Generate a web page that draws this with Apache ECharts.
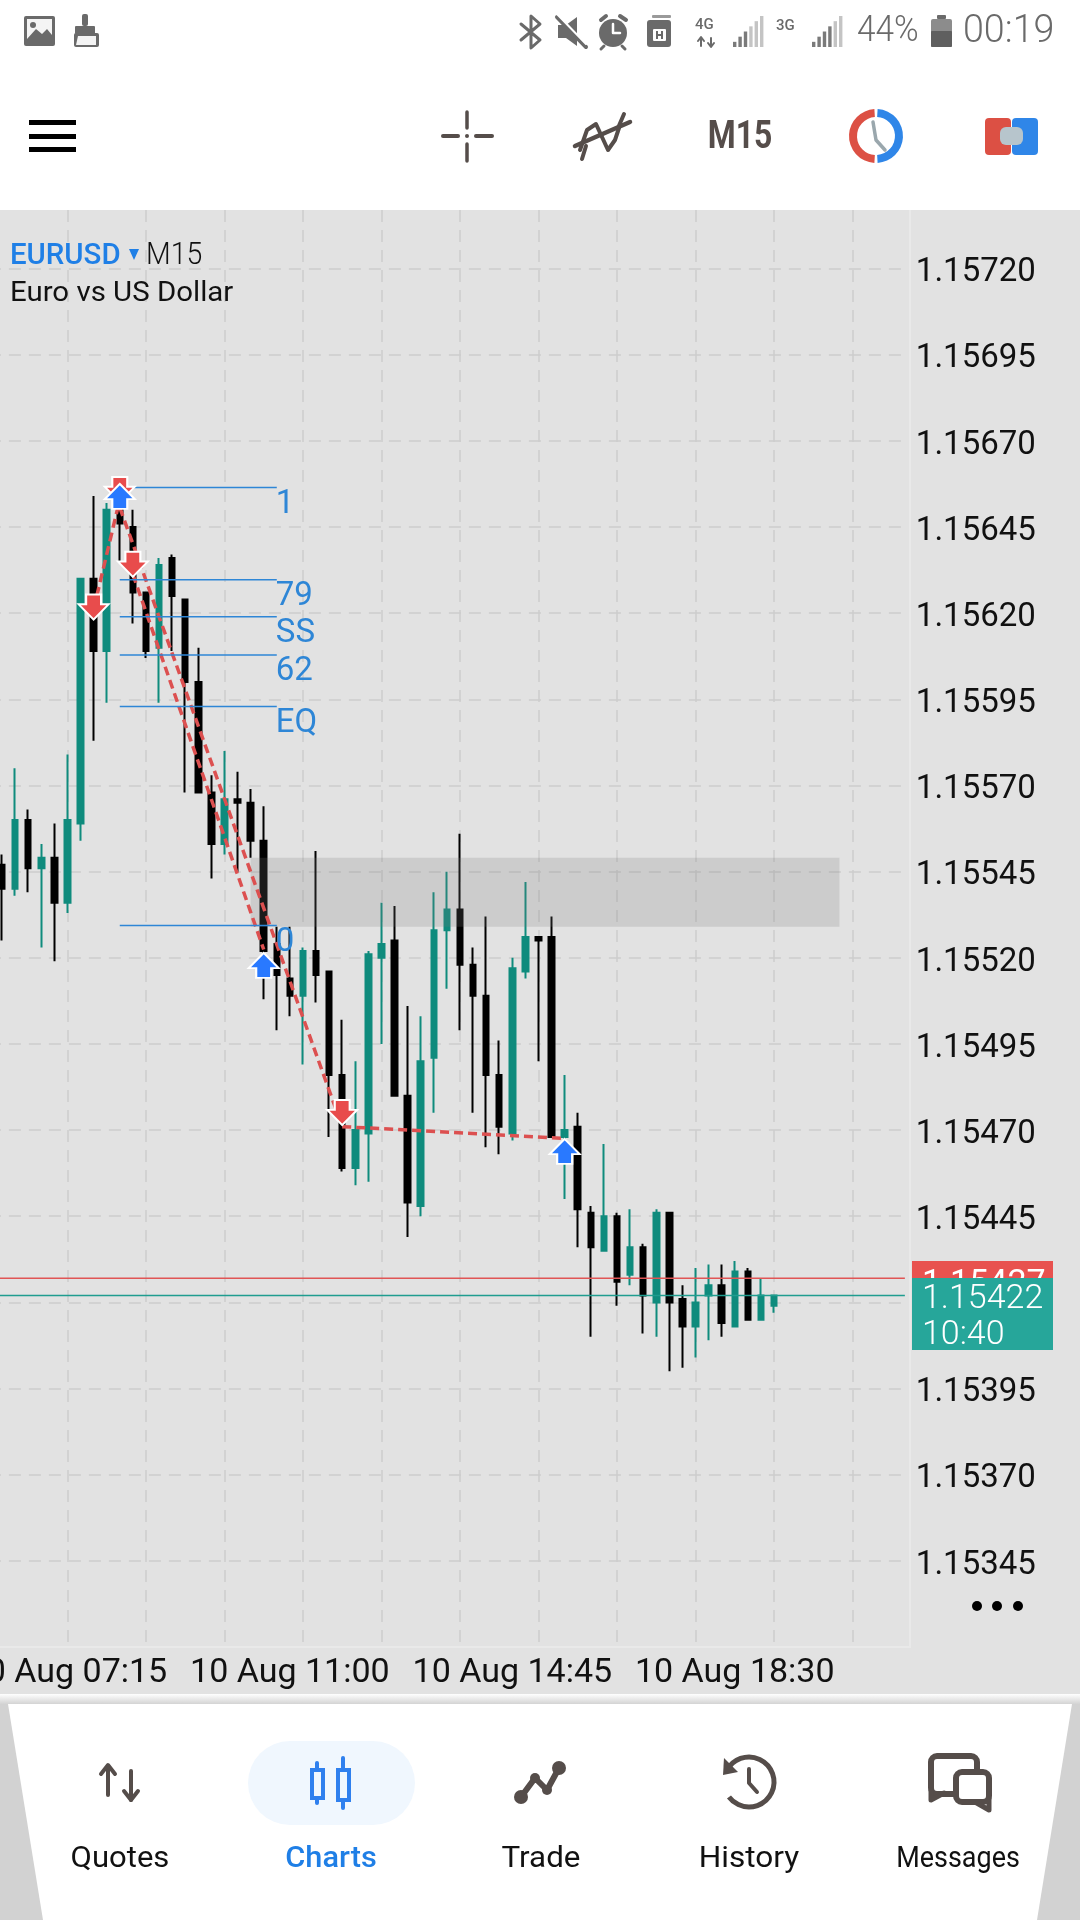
<!DOCTYPE html>
<html><head><meta charset="utf-8">
<script src="https://cdn.jsdelivr.net/npm/echarts@6/dist/echarts.min.js"></script>
<style>html,body{margin:0;padding:0;background:#fff}#c{width:1080px;height:1920px}</style></head>
<body><div id="c"></div>
<script>
// ---- chart data ----
const opens = [1.15547,1.15540,1.15560,1.15546,1.15549,1.15536,1.15559,1.15630,1.15609,1.15651,1.15645,1.15626,1.15610,1.15636,1.15624,1.15600,1.15568,1.15553,1.15566,1.15565,1.15554,1.15524,1.15514,1.15509,1.15522,1.15516,1.15486,1.15459,1.15469,1.15520,1.15525,1.15480,1.15448,1.15491,1.15528,1.15534,1.15518,1.15509,1.15486,1.15469,1.15516,1.15526,1.15526,1.15468,1.15471,1.15446,1.15435,1.15445,1.15428,1.15436,1.15420,1.15446,1.15421,1.15413,1.15422,1.15425,1.15413,1.15429,1.15415,1.15419];
const closes = [1.15540,1.15560,1.15546,1.15549,1.15536,1.15560,1.15630,1.15609,1.15650,1.15646,1.15626,1.15609,1.15634,1.15625,1.15600,1.15568,1.15553,1.15566,1.15565,1.15554,1.15522,1.15515,1.15509,1.15522,1.15515,1.15486,1.15459,1.15470,1.15521,1.15524,1.15480,1.15449,1.15490,1.15528,1.15534,1.15518,1.15509,1.15486,1.15471,1.15517,1.15526,1.15525,1.15468,1.15470,1.15447,1.15436,1.15445,1.15426,1.15436,1.15422,1.15446,1.15420,1.15413,1.15420,1.15425,1.15414,1.15429,1.15415,1.15422,1.15422];
const lows = [1.15525,1.15538,1.15539,1.15523,1.15519,1.15533,1.15554,1.15583,1.15594,1.15635,1.15617,1.15607,1.15594,1.15609,1.15568,1.15568,1.15543,1.15550,1.15545,1.15549,1.15508,1.15499,1.15503,1.15489,1.15507,1.15468,1.15458,1.15454,1.15455,1.15495,1.15480,1.15439,1.15445,1.15475,1.15511,1.15499,1.15475,1.15465,1.15463,1.15467,1.15514,1.15490,1.15468,1.15450,1.15436,1.15410,1.15435,1.15419,1.15425,1.15411,1.15410,1.15400,1.15401,1.15404,1.15409,1.15410,1.15413,1.15415,1.15415,1.15417];
const highs = [1.15550,1.15575,1.15563,1.15553,1.15559,1.15579,1.15630,1.15654,1.15652,1.15657,1.15650,1.15626,1.15636,1.15637,1.15624,1.15610,1.15573,1.15580,1.15574,1.15569,1.15564,1.15529,1.15529,1.15523,1.15551,1.15516,1.15502,1.15490,1.15522,1.15536,1.15535,1.15506,1.15503,1.15539,1.15545,1.15556,1.15523,1.15532,1.15496,1.15520,1.15542,1.15526,1.15532,1.15486,1.15475,1.15448,1.15466,1.15446,1.15447,1.15437,1.15447,1.15446,1.15425,1.15430,1.15431,1.15431,1.15432,1.15430,1.15427,1.15422];
const yTicks = [1.15345,1.15370,1.15395,1.15420,1.15445,1.15470,1.15495,1.15520,1.15545,1.15570,1.15595,1.15620,1.15645,1.15670,1.15695,1.15720];
const timeTickSlots = [6,23,40,57];
const timeTickLabels = ['10 Aug 07:15','10 Aug 11:00','10 Aug 14:45','10 Aug 18:30'];
const levelNames = ['1','79','SS','62','EQ','0'];
const levelValues = [1.156565,1.156297,1.156190,1.156079,1.155929,1.155294];
const levelFrom = 10, levelTo = 22;
const askPrice = 1.15427, bidPrice = 1.15422;
const zoneHigh = 1.15549, zoneLow = 1.15529, zoneFrom = 20, zoneTo = 65;
const tradePaths = [
  [[8,1.156211],[10,1.15653]],
  [[10,1.156507],[27,1.15471]],
  [[11,1.156313],[21,1.155224]],
  [[27,1.15471],[44,1.154676]]
];
const sellMarks = [[8,1.156218],[10,1.156559],[11,1.156342],[27,1.154751]];
const buyMarks = [[10,1.156539],[21,1.155178],[44,1.154638]];

const TEAL='#0f8b7d', BLACK='#000000', BG='#e2e2e2', INK='#554d4a', GREY='#6a6a6a';
const SLOTS = 71;
const categories = Array.from({length:SLOTS},(_,i)=>String(i));
const candles = [['-','-','-','-']].concat(opens.map((o,i)=>[o,closes[i],lows[i],highs[i]]));
const tickMap = {}; timeTickSlots.forEach((s,i)=>tickMap[s]=timeTickLabels[i]);
const ARROW_DOWN='path://M7 0H21V9H28L14 23L0 9H7Z', ARROW_UP='path://M14 0L28 14H21V23H7V14H0Z';

// ---- drawing helpers for the app chrome ----
const R=(x,y,w,h,fill,r,z)=>({type:'rect',z:z||30,silent:true,shape:{x,y,width:w,height:h,r:r||0},style:{fill}});
const C=(cx,cy,r,fill,z)=>({type:'circle',z:z||30,silent:true,shape:{cx,cy,r},style:{fill}});
const L=(pts,stroke,w,z,smooth)=>({type:'polyline',z:z||30,silent:true,shape:{points:pts,smooth:smooth||0},style:{stroke,lineWidth:w,fill:null,lineCap:'round',lineJoin:'round'}});
const P=(pts,fill,z)=>({type:'polygon',z:z||30,silent:true,shape:{points:pts},style:{fill}});
const T=(text,x,y,font,fill,o)=>Object.assign({type:'text',z:40,silent:true,x,y,style:{text,font,fill,textAlign:(o&&o.a)||'left',textVerticalAlign:'middle',align:(o&&o.a)||'left',verticalAlign:'middle'}},o&&o.sx?{scaleX:o.sx}:{},o&&o.z?{z:o.z}:{});
const ringSeg=(cx,cy,r0,r,a0,a1,fill)=>({type:'sector',z:30,silent:true,shape:{cx,cy,r0,r,startAngle:a0,endAngle:a1},style:{fill}});
const bars=(x0,yb,n,step,bw,maxH,dim)=>{const o=[];for(let i=0;i<n;i++){const h=maxH*(i+1)/n;o.push(R(x0+i*step,yb-h,bw,h,i>=n-dim?'#c4c4c4':'#7a7a7a'));}return o;};

const chrome=[
  R(0,210,1080,1484,BG,0,-20),
  R(909,210,2,1437,'#e9e9e9',0,1), R(0,1646,911,2,'#e9e9e9',0,1),
  // status bar left
  R(24,16,31,30,GREY,2), R(27,19,25,20,'#f4f4f4',0), C(33,25,3,GREY), P([[27,39],[36,29],[42,34],[47,29],[52,35],[52,39]],GREY),
  R(82,14,6,12,GREY,2), R(75,26,20,8,GREY,1), R(74,33,25,14,GREY,2), P([[78,36],[96,36],[96,45],[76,45]],'#f4f4f4'),
  // status bar right
  L([[521,24],[540,40],[531,48],[531,16],[540,24],[521,40]],GREY,3),
  P([[558,25],[566,25],[577,17],[577,46],[566,38],[558,38]],GREY), L([[557,17],[586,47]],GREY,4), L([[557,14],[586,44]],'#fff',2),
  C(613,33,14,GREY), L([[613,24],[613,33],[620,33]],'#fff',2.5), L([[601,20],[606,16]],GREY,4), L([[620,16],[626,20]],GREY,4), L([[604,46],[601,49]],GREY,3), L([[622,46],[625,49]],GREY,3),
  R(647,20,24,27,GREY,3), R(652,15,19,3,'#9a9a9a',1), R(653,29,13,12,'#fff',1), R(656,31,2,8,GREY), R(661,31,2,8,GREY), R(656,34,7,2,GREY),
  T('4G',695,25,'500 15px Roboto',GREY), L([[701,38],[701,46]],GREY,2), L([[711,38],[711,46]],GREY,2), L([[698,41],[701,37],[704,41]],GREY,2), L([[708,43],[711,47],[714,43]],GREY,2),
  ...bars(733,47,6,5.4,3.4,31,3),
  T('3G',776,26,'500 15px Roboto',GREY),
  ...bars(812,47,6,5.4,3.4,31,2),
  T('44%',857,32,'300 37px Roboto',GREY,{sx:.9}),
  R(937,15,9,4,GREY,1), R(931,19,21,28,'#8c8c8c',2), R(931,31,21,16,'#5f5f5f',1),
  T('00:19',963,32,'300 38px Roboto',GREY,{sx:.99}),
  // toolbar
  R(29,120,47,5,'#000'), R(29,134,47,5,'#000'), R(29,147,47,5,'#000'),
  L([[467,112],[467,128]],INK,3.5), L([[467,144],[467,161]],INK,3.5), L([[443,136],[458,136]],INK,4), L([[476,136],[492,136]],INK,4), C(467,136,2,INK),
  L([[580,150],[587,130],[596,124],[602,137],[608,150],[615,140],[620,125]],INK,4,0.5),
  L([[575,146],[630,122]],INK,4.5), L([[582,159],[586,146]],INK,4), L([[618,128],[624,114]],INK,4),
  T('M15',740,138,'700 38px Roboto',INK,{a:'center',sx:.84}),
  ringSeg(876,136,19,27,Math.PI/2+0.06,Math.PI*1.5-0.06,'#dc5044'), ringSeg(876,136,19,27,-Math.PI/2+0.06,Math.PI/2-0.06,'#2f86e8'),
  L([[873,122],[876,140],[885,150]],'#9aa7ad',3.5),
  R(985,118,26,37,'#dc5044',4), R(1012,118,26,37,'#2f86e8',4), R(1000,127,23,18,'#b7c5cc',6),
  // chart title
  T('EURUSD',10,256,'500 30px Roboto','#1f7fe6',{sx:.98}),
  P([[129,249],[139,249],[134,260]],'#1f7fe6'),
  T('M15',146,256,'300 31px Roboto','#111',{sx:.92}),
  T('Euro vs US Dollar',10,294,'400 28px Roboto','#111',{sx:1.05}),
  C(977,1606,5,'#000'), C(997,1606,5,'#000'), C(1018,1606,5,'#000'),
  // price tags
  R(912,1261,141,20,'#e8524f',0,40),
  T('1.15427',922,1284,'400 34px Roboto','#ffffff',{z:41}),
  R(912,1278,141,72,'#26a69a',0,42),
  T('1.15422',922,1299,'300 34px Roboto','#ffffff',{z:43}),
  T('10:40',922,1335,'300 34px Roboto','#ffffff',{z:43}),
  // bottom nav
  R(0,1694,1080,226,'#ffffff',0,20),
  {type:'rect',z:21,silent:true,shape:{x:0,y:1694,width:1080,height:11},style:{fill:{type:'linear',x:0,y:0,x2:0,y2:1,colorStops:[{offset:0,color:'#ffffff'},{offset:1,color:'#cfcfcf'}]}}},
  R(8,1704,1064,216,'#ffffff',0,22),
  P([[0,1704],[8,1704],[43,1920],[0,1920]],'#d2d2d2',23), P([[1080,1704],[1072,1704],[1037,1920],[1080,1920]],'#d2d2d2',23),
  R(248,1741,167,84,'#f0f7fe',42),
  L([[108,1766],[108,1795]],INK,4), L([[101,1774],[108,1765],[115,1774]],INK,4),
  L([[131,1771],[131,1800]],INK,4), L([[124,1791],[131,1800],[138,1791]],INK,4),
  L([[317,1763],[317,1803]],'#2f80ee',4), R(311,1769,13,30,'#f0f7fe'), {type:'rect',z:31,silent:true,shape:{x:312,y:1770,width:11,height:28},style:{fill:'#f0f7fe',stroke:'#2f80ee',lineWidth:4}},
  L([[343,1758],[343,1808]],'#2f80ee',4), {type:'rect',z:31,silent:true,shape:{x:338,y:1770,width:11,height:30},style:{fill:'#f0f7fe',stroke:'#2f80ee',lineWidth:4}},
  L([[521,1797],[535,1778],[547,1790],[559,1768]],INK,6), C(521,1797,7,INK), C(535,1778,5,INK), C(547,1790,5,INK), C(559,1768,7,INK),
  {type:'arc',z:30,silent:true,shape:{cx:749,cy:1782,r:25,startAngle:-2.7,endAngle:2.5,clockwise:true},style:{stroke:INK,lineWidth:5,fill:null}},
  P([[724,1758],[738,1772],[723,1775]],INK), L([[749,1769],[749,1783],[757,1792]],INK,4),
  {type:'rect',z:30,silent:true,shape:{x:931,y:1756,width:46,height:38,r:6},style:{fill:'#fff',stroke:INK,lineWidth:6}},
  L([[931,1790],[931,1800],[944,1793]],INK,5),
  {type:'rect',z:31,silent:true,shape:{x:956,y:1772,width:33,height:30,r:6},style:{fill:'#fff',stroke:INK,lineWidth:6}},
  L([[989,1798],[989,1810],[975,1802]],INK,5),
  T('Quotes',120,1860,'400 29px Roboto','#111',{a:'center',sx:1.07}),
  T('Charts',331,1860,'500 29px Roboto','#1f7fe6',{a:'center',sx:1.06}),
  T('Trade',541,1860,'400 29px Roboto','#111',{a:'center',sx:1.08}),
  T('History',749,1860,'400 29px Roboto','#111',{a:'center',sx:1.09}),
  T('Messages',958,1860,'400 29px Roboto','#111',{a:'center',sx:.93})
];

const levelSeries = levelNames.map((n,i)=>({
  type:'line',z:6,silent:true,showSymbol:false,symbol:'none',
  data:[[String(levelFrom),levelValues[i]],[String(levelTo),levelValues[i]]],
  lineStyle:{color:'#2e86d6',width:1.5},
  endLabel:{show:true,formatter:n,color:'#2e86d6',fontFamily:'Roboto',fontSize:33,distance:0,offset:[-1,17]}
}));
const priceLine=(v,c)=>({type:'line',z:7,silent:true,symbol:'none',data:[[categories[0],v],[categories[SLOTS-1],v]],lineStyle:{color:c,width:1.5}});
const tradeSeries = tradePaths.map(p=>({
  type:'line',z:5,silent:true,symbol:'none',
  data:p.map(q=>[String(q[0]),q[1]]),
  lineStyle:{color:'#dc5050',width:3.5,type:[9,5]}
}));
const markSeries=(d,sym,c,z)=>({type:'scatter',z,silent:true,symbol:sym,symbolSize:[30,25],
  data:d.map(q=>[String(q[0]),q[1]]),itemStyle:{color:c,borderColor:'#fff',borderWidth:2,opacity:1}});

const chart=echarts.init(document.getElementById('c'),null,{renderer:'canvas'});
chart.setOption({
  animation:false,backgroundColor:'#ffffff',
  grid:{left:-11.085,top:210,width:915.95,height:1437,containLabel:false,outerBoundsMode:'none'},
  xAxis:{type:'category',data:categories,boundaryGap:false,
    axisLine:{show:false},axisTick:{show:false},
    axisLabel:{interval:i=>tickMap[i]!==undefined,formatter:(v,i)=>tickMap[i]||'',color:'#111',fontFamily:'Roboto',fontSize:34,margin:9,hideOverlap:false},
    splitLine:{show:true,interval:i=>i%6===0,lineStyle:{color:'#cdcdcd',width:1.5,type:[12,8]}}},
  yAxis:{type:'value',position:'right',min:1.1532,max:1.15737,scale:true,
    axisLine:{show:false},
    axisTick:{show:false,customValues:yTicks},
    axisLabel:{customValues:yTicks,formatter:v=>'{v|'+v.toFixed(5)+'}',margin:11,
      rich:{v:{color:'#111',fontFamily:'Roboto',fontSize:33,padding:[9,0,0,0]}}},
    splitLine:{show:true,lineStyle:{color:'#cdcdcd',width:1.5,type:[12,8]}}},
  graphic:{elements:chrome},
  series:[
    {type:'candlestick',z:3,silent:true,data:candles,barWidth:6,
      itemStyle:{color:TEAL,color0:BLACK,borderColor:TEAL,borderColor0:BLACK,borderWidth:2}},
    {type:'line',z:4,silent:true,symbol:'none',data:[],
      markArea:{silent:true,z:4,itemStyle:{color:'rgba(122,122,122,0.21)'},
        data:[[{xAxis:String(zoneFrom),yAxis:zoneHigh},{xAxis:String(zoneTo),yAxis:zoneLow}]]}},
    ...levelSeries,
    priceLine(askPrice,'#e05555'),priceLine(bidPrice,'#1f9d8f'),
    ...tradeSeries,
    markSeries(sellMarks,ARROW_DOWN,'#e84c4c',8),
    markSeries(buyMarks,ARROW_UP,'#2979ff',9)
  ]
});
</script></body></html>
